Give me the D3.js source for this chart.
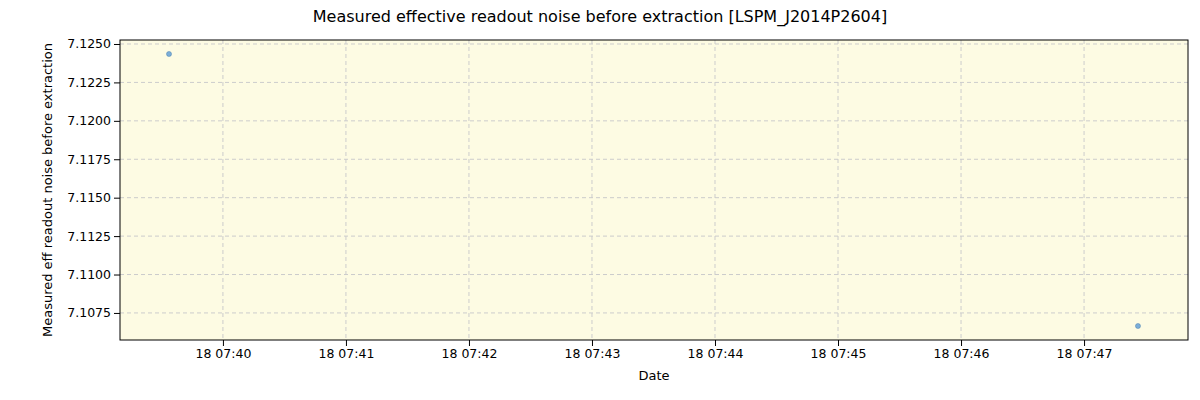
<!DOCTYPE html>
<html><head><meta charset="utf-8">
<script src="https://cdn.jsdelivr.net/npm/d3@7"></script>
<style>body{margin:0;background:#fff}</style>
</head><body><svg id="c" width="1200" height="400"></svg>
<script>
const dates = ["2023-01-18T07:39:33.7", "2023-01-18T07:47:26.3"];
const values = [7.12435, 7.10665];
const yTicks = [7.1075, 7.1100, 7.1125, 7.1150, 7.1175, 7.1200, 7.1225, 7.1250];
const xTicks = ["2023-01-18T07:40","2023-01-18T07:41","2023-01-18T07:42","2023-01-18T07:43","2023-01-18T07:44","2023-01-18T07:45","2023-01-18T07:46","2023-01-18T07:47"];

const svg = d3.select("#c"), L=120, R=1188, T=40, B=340;
const font = "DejaVu Sans, sans-serif";
const x = d3.scaleTime().domain([new Date("2023-01-18T07:39:09.8"), new Date("2023-01-18T07:47:50.7")]).range([L,R]);
const y = d3.scaleLinear().domain([7.10574, 7.12526]).range([B,T]);
svg.append("rect").attr("x",L).attr("y",T).attr("width",R-L).attr("height",B-T).attr("fill","#fdfbe3");
const xt = xTicks.map(d=>new Date(d));
svg.append("g").selectAll("line").data(xt).join("line").attr("x1",d=>x(d)).attr("x2",d=>x(d)).attr("y1",T).attr("y2",B)
  .attr("stroke","#ccc").attr("stroke-dasharray","4,3");
svg.append("g").selectAll("line").data(yTicks).join("line").attr("y1",d=>y(d)).attr("y2",d=>y(d)).attr("x1",L).attr("x2",R)
  .attr("stroke","#ccc").attr("stroke-dasharray","4,3");
const fmt = d3.timeFormat("%d %H:%M");
const gx = svg.append("g").attr("transform",`translate(0,${B})`).call(d3.axisBottom(x).tickValues(xt).tickFormat(fmt).tickSizeOuter(0));
const gy = svg.append("g").attr("transform",`translate(${L},0)`).call(d3.axisLeft(y).tickValues(yTicks).tickFormat(d3.format(".4f")).tickSizeOuter(0));
[gx,gy].forEach(g=>{g.selectAll("text").attr("font-family",font).attr("font-size",12.5).attr("fill","#000");g.select(".domain").remove();g.selectAll("line").attr("stroke","#000");});
svg.append("rect").attr("x",L).attr("y",T).attr("width",R-L).attr("height",B-T).attr("fill","none").attr("stroke","#000");
svg.selectAll("circle").data(dates).join("circle").attr("cx",d=>x(new Date(d))).attr("cy",(d,i)=>y(values[i])).attr("r",2.5)
  .attr("fill","#5b9bd5").attr("fill-opacity",0.8).attr("stroke","#4a80b0").attr("stroke-width",0.5);
svg.append("text").attr("x",600).attr("y",22).attr("text-anchor","middle").attr("font-family",font).attr("font-size",16).text("Measured effective readout noise before extraction [LSPM_J2014P2604]");
svg.append("text").attr("x",654).attr("y",380).attr("text-anchor","middle").attr("font-family",font).attr("font-size",13).text("Date");
svg.append("text").attr("transform","translate(52,190) rotate(-90)").attr("text-anchor","middle").attr("font-family",font).attr("font-size",13).text("Measured eff readout noise before extraction");
</script></body></html>
